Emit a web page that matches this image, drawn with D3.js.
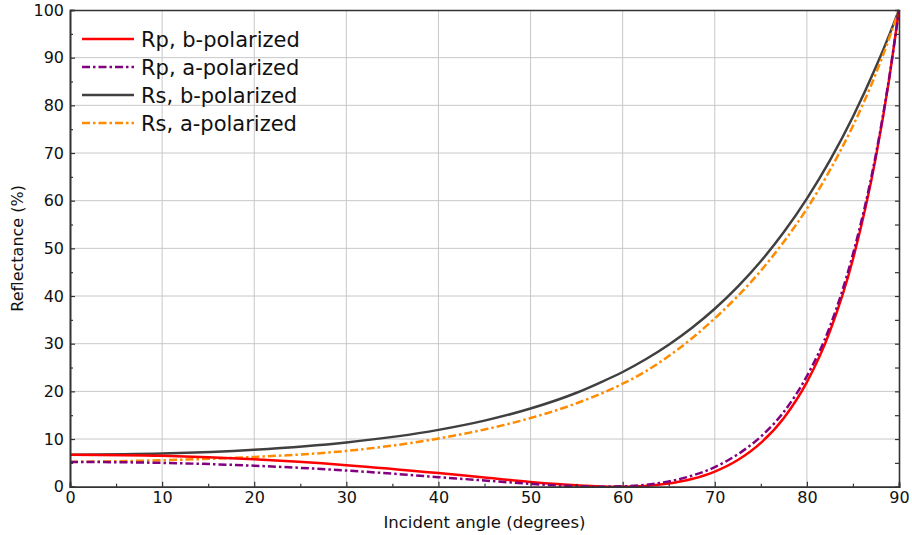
<!DOCTYPE html>
<html>
<head>
<meta charset="utf-8">
<script src="https://cdn.jsdelivr.net/npm/d3@7"></script>
<style>
  body { margin: 0; background: #fff; }
  svg { display: block; font-family: "DejaVu Sans", Verdana, sans-serif; }
</style>
</head>
<body>
<div id="chart"></div>
<script>
// incident angles (degrees) shared by all curves
var angles = [0, 10, 20, 30, 40, 45, 50, 55, 57.5, 60, 62.5, 65, 67.5, 70, 72.5, 75, 77.5, 80, 82.5, 85, 87.5, 89, 90];
// reflectance in %
var rpB = [6.72, 6.48, 5.75, 4.52, 2.86, 1.92, 1.01, 0.29, 0.06, 0.0, 0.17, 0.67, 1.61, 3.17, 5.59, 9.19, 14.43, 21.93, 32.59, 47.72, 69.24, 86.35, 100];
var rpA = [5.2, 5.0, 4.4, 3.4, 2.0, 1.3, 0.6, 0.1, 0.0, 0.08, 0.4, 1.1, 2.3, 4.1, 6.8, 10.5, 15.7, 23.2, 33.6, 48.8, 69.8, 86.6, 100];
var rsB = [6.72, 6.97, 7.76, 9.28, 11.92, 13.86, 16.40, 19.71, 21.8, 24.06, 26.73, 29.79, 33.30, 37.34, 41.98, 47.30, 53.41, 60.42, 68.44, 77.61, 88.08, 95.05, 100];
var rsA = [5.2, 5.55, 6.25, 7.5, 10.1, 12.0, 14.4, 17.5, 19.4, 21.6, 24.2, 27.4, 31.1, 35.3, 40.0, 45.3, 51.4, 58.3, 66.4, 75.7, 86.7, 94.4, 100];

var seriesNames = ["Rp, b-polarized", "Rp, a-polarized", "Rs, b-polarized", "Rs, a-polarized"];
var xTicks = [0, 10, 20, 30, 40, 50, 60, 70, 80, 90];
var yTicks = [0, 10, 20, 30, 40, 50, 60, 70, 80, 90, 100];

var width = 912, height = 535;
var plotL = 70, plotR = 899, plotT = 10, plotB = 486.7;

var svg = d3.select("#chart").append("svg")
    .attr("width", width)
    .attr("height", height);

var x = d3.scaleLinear().domain([0, 90]).range([plotL, plotR]);
var y = d3.scaleLinear().domain([0, 100]).range([plotB, plotT]);

// grid
svg.append("g").selectAll("line")
    .data(xTicks.slice(1, -1))
    .enter().append("line")
    .attr("x1", function (d) { return x(d); }).attr("x2", function (d) { return x(d); })
    .attr("y1", plotT).attr("y2", plotB)
    .attr("stroke", "#c8c8c8").attr("stroke-width", 1);
svg.append("g").selectAll("line")
    .data(yTicks.slice(1, -1))
    .enter().append("line")
    .attr("y1", function (d) { return y(d); }).attr("y2", function (d) { return y(d); })
    .attr("x1", plotL).attr("x2", plotR)
    .attr("stroke", "#c8c8c8").attr("stroke-width", 1);

// curves
var styles = [
  { data: rpB, color: "#ff0000", dash: null },
  { data: rpA, color: "#800080", dash: "8,3,2.5,3" },
  { data: rsB, color: "#404040", dash: null },
  { data: rsA, color: "#ff8c00", dash: "8,3,2.5,3" }
];
var line = d3.line()
    .x(function (d) { return x(d[0]); })
    .y(function (d) { return y(d[1]); })
    .curve(d3.curveMonotoneX);

// draw order: Rs first so Rp curves sit on top
[2, 3, 0, 1].forEach(function (i) {
  var s = styles[i];
  svg.append("path")
    .datum(angles.map(function (a, j) { return [a, s.data[j]]; }))
    .attr("d", line)
    .attr("fill", "none")
    .attr("stroke", s.color)
    .attr("stroke-width", 2.5)
    .attr("stroke-dasharray", s.dash);
});

// axes
var axisColor = "#333";
svg.append("g")
    .attr("transform", "translate(0," + plotB + ")")
    .call(d3.axisBottom(x).tickValues(xTicks).tickSize(-5).tickPadding(5).tickFormat(d3.format("d")));
svg.append("g")
    .attr("transform", "translate(0," + plotB + ")")
    .call(d3.axisBottom(x).tickValues(d3.range(5, 90, 10)).tickSize(-3).tickFormat(""));
svg.append("g")
    .attr("transform", "translate(" + plotL + ",0)")
    .call(d3.axisLeft(y).tickValues(yTicks).tickSize(-5).tickPadding(6).tickFormat(d3.format("d")));
svg.append("g")
    .attr("transform", "translate(" + plotL + ",0)")
    .call(d3.axisLeft(y).tickValues(d3.range(5, 100, 10)).tickSize(-3).tickFormat(""));
svg.append("g")
    .attr("transform", "translate(" + plotR + ",0)")
    .call(d3.axisRight(y).tickValues(d3.range(5, 100, 5)).tickSize(-4).tickFormat(""));
svg.append("g")
    .attr("transform", "translate(0," + plotT + ")")
    .call(d3.axisTop(x).tickValues([]).tickSize(0));

svg.selectAll(".domain").attr("stroke", axisColor).attr("stroke-width", 1.6);
svg.selectAll(".tick line").attr("stroke", axisColor).attr("stroke-width", 1.2);
svg.selectAll(".tick text")
    .attr("fill", "#111")
    .style("font-size", "16px")
    .style("font-family", "DejaVu Sans, Verdana, sans-serif");

// axis titles
svg.append("text")
    .attr("x", (plotL + plotR) / 2)
    .attr("y", 528)
    .attr("text-anchor", "middle")
    .style("font-size", "16.5px")
    .attr("fill", "#111")
    .text("Incident angle (degrees)");
svg.append("text")
    .attr("transform", "translate(23," + ((plotT + plotB) / 2) + ") rotate(-90)")
    .attr("text-anchor", "middle")
    .style("font-size", "16px")
    .attr("fill", "#111")
    .text("Reflectance (%)");

// legend
var legend = svg.append("g");
seriesNames.forEach(function (name, i) {
  var yy = 39 + i * 28;
  legend.append("line")
    .attr("x1", 82).attr("x2", 134)
    .attr("y1", yy).attr("y2", yy)
    .attr("stroke", styles[i].color)
    .attr("stroke-width", 2.5)
    .attr("stroke-dasharray", styles[i].dash);
  legend.append("text")
    .attr("x", 141)
    .attr("y", yy + 7.5)
    .style("font-size", "21px")
    .attr("fill", "#111")
    .text(name);
});
</script>
</body>
</html>
